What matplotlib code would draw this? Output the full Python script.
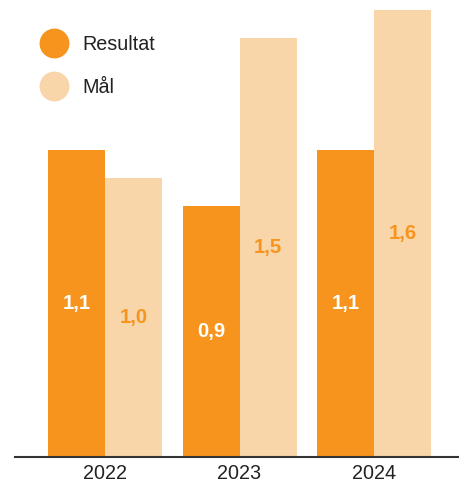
import matplotlib
matplotlib.use("Agg")
import matplotlib.pyplot as plt
from matplotlib.lines import Line2D
import numpy as np

plt.rcParams['font.family'] = ['Liberation Sans', 'DejaVu Sans']

years = ["2022", "2023", "2024"]
resultat = [1.1, 0.9, 1.1]
maal = [1.0, 1.5, 1.6]
series_names = ["Resultat", "Mål"]

c_res = "#F7941D"
c_maal = "#F8D6AA"
text_dark = "#222222"

W, H = 459, 483
fig = plt.figure(figsize=(W / 100, H / 100), dpi=100)
ax = fig.add_axes([15 / W, 26 / H, (W - 15) / W, 447 / H])

x = np.arange(len(years))
bw = 57 / 134.5
b1 = ax.bar(x - bw / 2, resultat, bw, color=c_res, linewidth=0)
b2 = ax.bar(x + bw / 2, maal, bw, color=c_maal, linewidth=0)

fmt = lambda v: f"{v:.1f}".replace(".", ",")
ax.bar_label(b1, labels=[fmt(v) for v in resultat], label_type="center",
             color="white", fontsize=14.6, fontweight="bold")
ax.bar_label(b2, labels=[fmt(v) for v in maal], label_type="center",
             color=c_res, fontsize=14.6, fontweight="bold")

ax.set_xlim(-90 / 134.5, 354 / 134.5)
ax.set_ylim(0, 1.6)
ax.set_xticks(x)
ax.set_xticklabels(years, fontsize=14.2, color=text_dark)
ax.tick_params(axis="x", length=0, pad=5)
ax.set_yticks([])
for s in ["top", "right", "left"]:
    ax.spines[s].set_visible(False)
ax.spines["bottom"].set_color("#333333")
ax.spines["bottom"].set_linewidth(1.5)

handles = [Line2D([], [], marker="o", linestyle="none", markersize=21.5,
                  markerfacecolor=c, markeredgecolor="none")
           for c in (c_res, c_maal)]
leg = ax.legend(handles, series_names, loc="upper left",
                bbox_to_anchor=(40 / W, 1 - 35 / H), bbox_transform=fig.transFigure,
                frameon=False, fontsize=14.2, labelspacing=1.2,
                handletextpad=0.75, borderpad=0, borderaxespad=0, handlelength=1.4)
for t in leg.get_texts():
    t.set_color(text_dark)

fig.savefig("out.png", dpi=100)
